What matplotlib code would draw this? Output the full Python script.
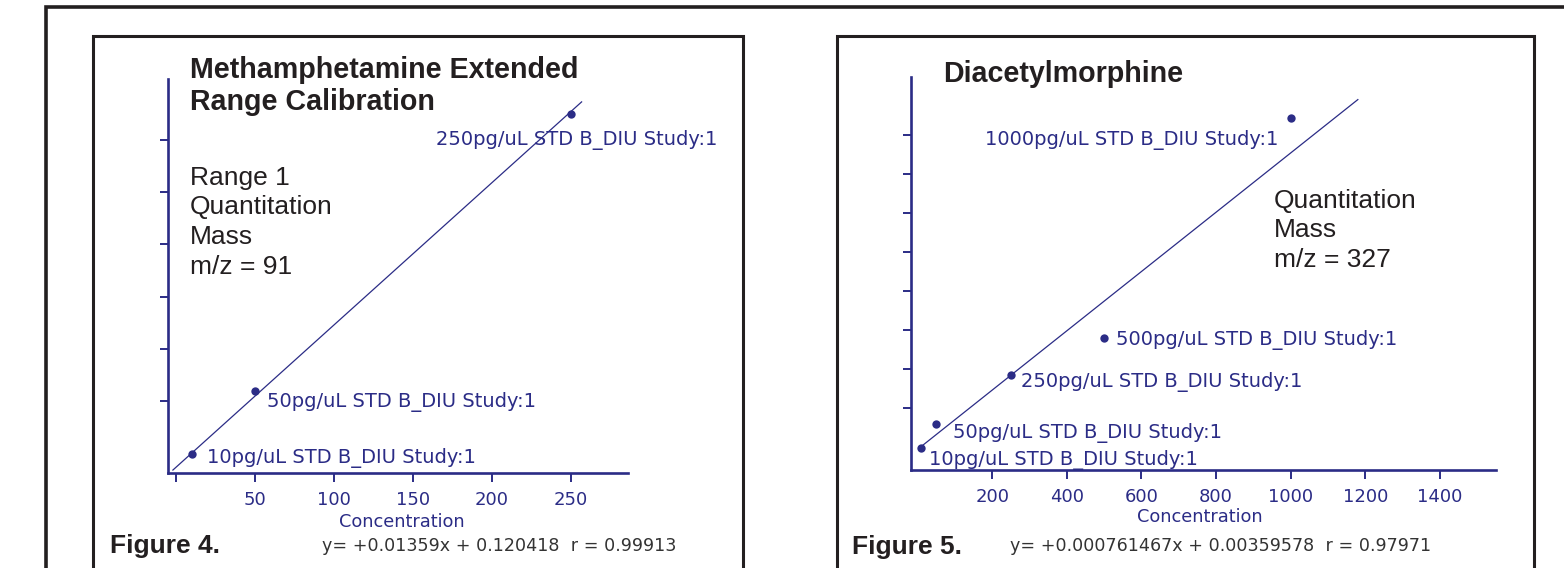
import numpy as np
import matplotlib
matplotlib.use('Agg')
import matplotlib.pyplot as plt

W, H = 1564, 568
NAVY = '#2b2c86'
INK = '#231f20'

# Methamphetamine calibration standards (concentration pg/uL, response)
meth_conc = [10, 50, 250]
meth_resp = [0.247, 0.852, 3.494]
meth_labels = ['10pg/uL STD B_DIU Study:1', '50pg/uL STD B_DIU Study:1',
               '250pg/uL STD B_DIU Study:1']
meth_slope, meth_icpt, meth_r = 0.01359, 0.120418, 0.99913
meth_fit_x = [-2, 257]
meth_xticks = [0, 50, 100, 150, 200, 250]
meth_xticklabels = ['', '50', '100', '150', '200', '250']
meth_yticks = [0.75, 1.25, 1.75, 2.25, 2.75, 3.25]

# Diacetylmorphine calibration standards
dam_conc = [10, 50, 250, 500, 1000]
dam_resp = [0.0077, 0.0678, 0.1945, 0.2896, 0.854]
dam_labels = ['10pg/uL STD B_DIU Study:1', '50pg/uL STD B_DIU Study:1',
              '250pg/uL STD B_DIU Study:1', '500pg/uL STD B_DIU Study:1',
              '1000pg/uL STD B_DIU Study:1']
dam_slope, dam_icpt, dam_r = 0.000761467, 0.00359578, 0.97971
dam_fit_x = [10, 1180]
dam_xticks = [200, 400, 600, 800, 1000, 1200, 1400]
dam_yticks = [0.11, 0.21, 0.31, 0.41, 0.51, 0.61, 0.71, 0.81]

fig = plt.figure(figsize=(W / 100, H / 100), dpi=100)

# page layer in pixel units: boxes, titles, captions
page = fig.add_axes([0, 0, 1, 1], zorder=0)
page.set_xlim(0, W)
page.set_ylim(H, 0)
page.axis('off')

page.plot([46, 46, W + 10], [H + 10, 7, 7], color=INK, lw=2.6, solid_joinstyle='miter')
for x0, x1 in [(92.7, 743), (836.9, 1533.8)]:
    page.plot([x0, x0, x1, x1], [H + 10, 36.2, 36.2, H + 10], color=INK, lw=2.2,
              solid_joinstyle='miter')

arial = 'Liberation Sans'
page.text(190, 78, 'Methamphetamine Extended', fontsize=20.6, fontweight='bold',
          family=arial, color=INK, va='baseline')
page.text(190, 110, 'Range Calibration', fontsize=20.6, fontweight='bold',
          family=arial, color=INK, va='baseline')
page.text(943, 81.5, 'Diacetylmorphine', fontsize=20.6, fontweight='bold',
          family=arial, color=INK, va='baseline')

for i, line in enumerate(['Range 1', 'Quantitation', 'Mass', 'm/z = 91']):
    page.text(190, 184.8 + 29.6 * i, line, fontsize=19, family=arial, color=INK,
              va='baseline')
for i, line in enumerate(['Quantitation', 'Mass', 'm/z = 327']):
    page.text(1273.7, 207.6 + 29.7 * i, line, fontsize=19, family=arial, color=INK,
              va='baseline')

page.text(110, 552.5, 'Figure 4.', fontsize=19, fontweight='bold', family=arial,
          color=INK, va='baseline')
page.text(851.7, 554, 'Figure 5.', fontsize=19, fontweight='bold', family=arial,
          color=INK, va='baseline')

eq_font = dict(fontsize=12.6, family='DejaVu Sans', color='#333333', va='baseline')
page.text(322.4, 551, f'y= +{meth_slope:g}x + {meth_icpt:g}  r = {meth_r:g}', **eq_font)
page.text(1009.6, 551, f'y= +{dam_slope:g}x + {dam_icpt:g}  r = {dam_r:g}', **eq_font)


def px_rect(x0, y0, x1, y1):
    return [x0 / W, 1 - y1 / H, (x1 - x0) / W, (y1 - y0) / H]


def calib_panel(rect, conc, resp, labels, offsets, aligns, slope, icpt, fit_x,
                xlim, ylim, xticks, xticklabels, yticks, xlabel_pos):
    ax = fig.add_axes(rect, zorder=2)
    ax.patch.set_alpha(0)
    fx = np.array(fit_x, dtype=float)
    ax.plot(fx, slope * fx + icpt, color=NAVY, lw=0.9)
    ax.plot(conc, resp, 'o', color=NAVY, ms=6, mec='none')
    for c, r, lab, off, ha in zip(conc, resp, labels, offsets, aligns):
        ax.annotate(lab, (c, r), xytext=off, textcoords='offset pixels',
                    ha=ha, va='baseline', fontsize=14, color=NAVY,
                    family='DejaVu Sans')
    ax.set_xlim(*xlim)
    ax.set_ylim(*ylim)
    for side in ['top', 'right']:
        ax.spines[side].set_visible(False)
    for side in ['left', 'bottom']:
        ax.spines[side].set_color(NAVY)
        ax.spines[side].set_linewidth(1.9)
    ax.set_xticks(xticks)
    ax.set_xticklabels(xticklabels)
    ax.set_yticks(yticks)
    ax.set_yticklabels([])
    ax.tick_params(axis='x', direction='out', length=6.5, width=1.4, color=NAVY,
                   labelcolor=NAVY, labelsize=13, pad=6.5)
    ax.tick_params(axis='y', direction='out', length=5.8, width=1.4, color=NAVY)
    ax.set_xlabel('Concentration', fontsize=12.8, color=NAVY)
    ax.xaxis.set_label_coords(*xlabel_pos)
    ax.xaxis.label.set_va('center')
    return ax


calib_panel(px_rect(167.7, 79, 628, 473), meth_conc, meth_resp, meth_labels,
            [(15, -9.5), (12, -15.9), (-134.7, -30.4)], ['left', 'left', 'left'],
            meth_slope, meth_icpt, meth_fit_x,
            (-5.3, 286.4), (0.065, 3.832), meth_xticks, meth_xticklabels,
            meth_yticks, (0.508, -0.1236))

calib_panel(px_rect(910.5, 77.3, 1496, 470), dam_conc, dam_resp, dam_labels,
            [(8, -17.3), (16.2, -13.7), (10, -12.4), (11.9, -7), (-12.1, -26.4)],
            ['left', 'left', 'left', 'left', 'right'],
            dam_slope, dam_icpt, dam_fit_x,
            (-19.3, 1550.4), (-0.0496, 0.9594), dam_xticks,
            [str(t) for t in dam_xticks], dam_yticks, (0.494, -0.1207))

fig.savefig('out.png', dpi=100)
